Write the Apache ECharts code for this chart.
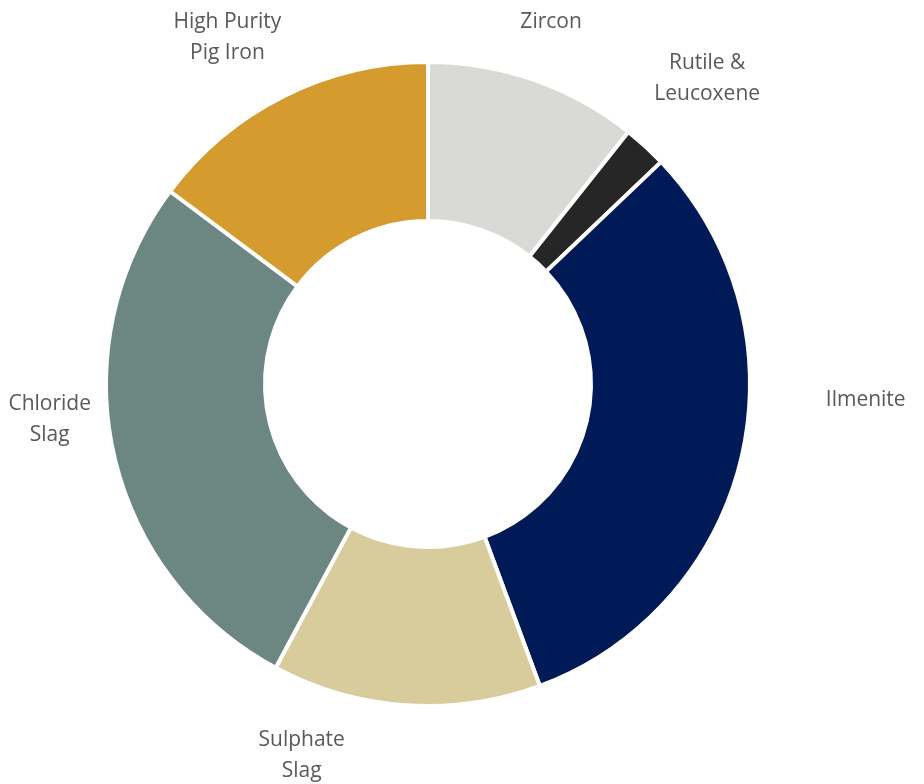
<!DOCTYPE html>
<html>
<head>
<meta charset="utf-8">
<script src="https://cdn.jsdelivr.net/npm/echarts@6/dist/echarts.min.js"></script>
<style>
html,body{margin:0;padding:0;background:#fff;}
#chart{width:924px;height:784px;}
</style>
</head>
<body>
<div id="chart"></div>
<script>
// Data
var categories = ['Zircon', 'Rutile &\nLeucoxene', 'Ilmenite', 'Sulphate\nSlag', 'Chloride\nSlag', 'High Purity\nPig Iron'];
var values = [10.7, 2.2, 31.5, 13.5, 27.4, 14.8];
var colors = ['#D9D9D6', '#262626', '#001A57', '#D8CC9D', '#6C8681', '#D59B2E'];

// Label placement (polar: angle clockwise from 12 o'clock in degrees, distance from centre in px)
var labelPolar = [
  [18.8, 382], [42.4, 414], [92.1, 438], [198.8, 392], [264.6, 380], [329.9, 400]
];

var cx = 428, cy = 384;
var chart = echarts.init(document.getElementById('chart'), null, {renderer: 'canvas'});
chart.setOption({
  animation: false,
  series: [{
    type: 'pie',
    center: [cx, cy],
    radius: [163, 322],
    startAngle: 90,
    clockwise: true,
    avoidLabelOverlap: false,
    itemStyle: {borderColor: '#ffffff', borderWidth: 4},
    label: {
      show: true,
      position: 'outside',
      formatter: '{b}',
      fontFamily: 'Open Sans',
      fontSize: 21,
      lineHeight: 31,
      color: '#595959',
      align: 'center'
    },
    labelLine: {show: false},
    labelLayout: function (p) {
      var lp = labelPolar[p.dataIndex];
      var a = lp[0] * Math.PI / 180;
      return {
        x: cx + lp[1] * Math.sin(a),
        y: cy - lp[1] * Math.cos(a),
        align: 'center',
        verticalAlign: 'middle'
      };
    },
    data: categories.map(function (c, i) {
      return {name: c, value: values[i], itemStyle: {color: colors[i]}};
    })
  }]
});
</script>
</body>
</html>
